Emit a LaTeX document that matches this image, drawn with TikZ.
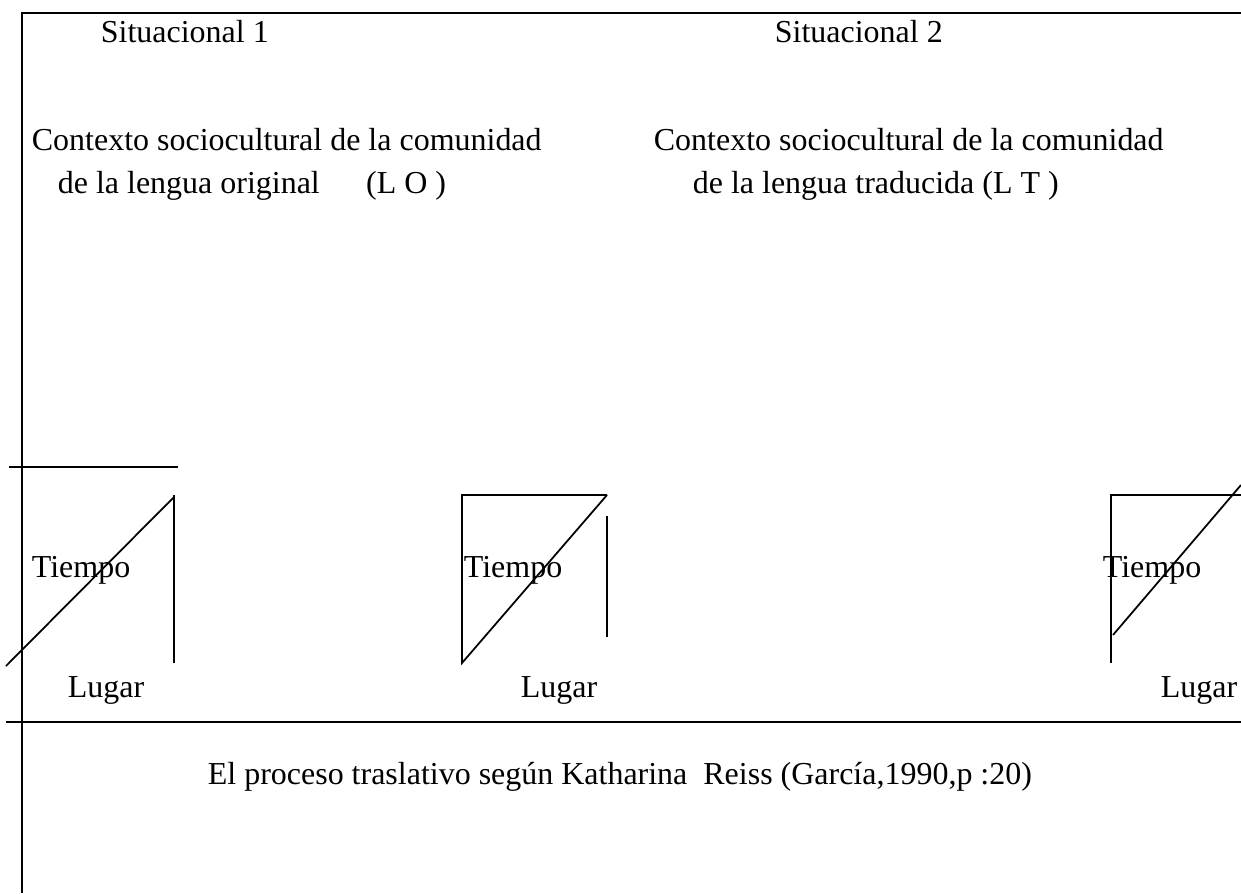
\documentclass[tikz,border=0pt]{standalone}
\usepackage{fontspec}
\setmainfont{Liberation Serif}
\usetikzlibrary{positioning}

\begin{document}
\begin{tikzpicture}[x=0.02cm,y=-0.02cm,line width=1pt]
	\tikzset{Txt/.style = {inner sep=0pt, anchor=base west, font=\fontsize{18.2}{21}\selectfont}}
	\useasboundingbox (0,0) rectangle (1241,893);
	% marco
	\draw (22,893) -- (22,13) -- (1241,13);
	\draw (9,467) -- (178,467);
	\draw (6,722) -- (1241,722);
	% textos de arriba
	\node[Txt]    (S1) at (100,42)  {Situacional 1};
	\node[Txt]    (S2) at (774,42)  {Situacional 2};
	\node[Txt]    (CO) at (31,150)  {Contexto sociocultural de la comunidad};
	\node[Txt]    (LO) at (57,193)  {de la lengua original\hspace{1.45em}(L O )};
	\node[Txt]    (CT) at (653,150) {Contexto sociocultural de la comunidad};
	\node[Txt]    (LT) at (692,193) {de la lengua traducida (L T )};
	% figuras
	\draw (6,666) -- (174,497);
	\draw (174,495) -- (174,663);
	\draw (607,495) -- (462,495) -- (462,663) -- (607,495);
	\draw (607,516) -- (607,637);
	\draw (1241,495) -- (1111,495) -- (1111,663);
	\draw (1113,635) -- (1241,485);
	\node[Txt]    (T1) at (31,577)   {Tiempo};
	\node[Txt]    (T2) at (463,577)  {Tiempo};
	\node[Txt]    (T3) at (1102,577) {Tiempo};
	\node[Txt]    (L1) at (67,697)   {Lugar};
	\node[Txt]    (L2) at (520,697)  {Lugar};
	\node[Txt]    (L3) at (1160,697) {Lugar};
	% pie
	\node[Txt]    (P)  at (207,784)  {El proceso traslativo según Katharina\ \ Reiss (García,1990,p :20)};
\end{tikzpicture}
\end{document}
